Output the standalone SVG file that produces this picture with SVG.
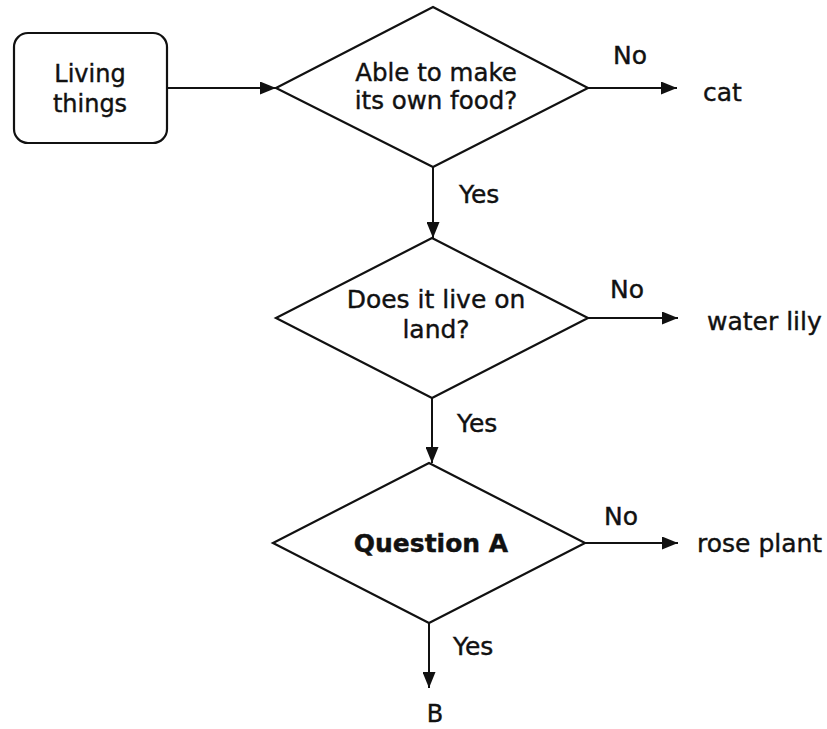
<svg xmlns="http://www.w3.org/2000/svg" width="827" height="729" viewBox="0 0 827 729">
<defs>
<marker id="arr" markerUnits="userSpaceOnUse" markerWidth="17" markerHeight="13" refX="16" refY="6.5" orient="auto">
<path d="M0,0 L16,6.5 L0,13 Z" fill="#111"/>
</marker>
<style>
.shape{fill:#fff;stroke:#111;stroke-width:2.2}
.edge{fill:none;stroke:#111;stroke-width:2;marker-end:url(#arr)}
text{font-family:"DejaVu Sans","Liberation Sans",sans-serif;font-size:25px;fill:#111;stroke:#111;stroke-width:0.4}
.c{text-anchor:middle}
.b{font-weight:bold}
</style>
</defs>
<rect width="827" height="729" fill="#fff"/>
<g id="connectors">
<line class="edge" x1="168" y1="88" x2="276" y2="88"/>
<line class="edge" x1="588" y1="88" x2="677" y2="88"/>
<line class="edge" x1="433" y1="167" x2="433" y2="238"/>
<line class="edge" x1="588" y1="318" x2="678" y2="318"/>
<line class="edge" x1="432" y1="398" x2="432" y2="463"/>
<line class="edge" x1="585" y1="543" x2="678" y2="543"/>
<line class="edge" x1="429" y1="623" x2="429" y2="688"/>
<text x="630" y="64" class="c">No</text>
<text x="459" y="203">Yes</text>
<text x="627" y="298" class="c">No</text>
<text x="457" y="432">Yes</text>
<text x="621" y="525" class="c">No</text>
<text x="453" y="655">Yes</text>
</g>
<g id="living">
<rect class="shape" x="14" y="33" width="153" height="110" rx="14"/>
<text x="90" y="82" class="c" style="font-size:24px">Living</text>
<text x="90" y="112" class="c" style="font-size:24px">things</text>
</g>
<g id="q1">
<polygon class="shape" points="433,7 588,88 433,167 276,88"/>
<text x="436" y="81" class="c" style="font-size:24.5px">Able to make</text>
<text x="436" y="109" class="c" style="font-size:24.5px">its own food?</text>
</g>
<g id="q2">
<polygon class="shape" points="432,238 588,318 432,398 276,318"/>
<text x="436" y="308" class="c">Does it live on</text>
<text x="436" y="338" class="c">land?</text>
</g>
<g id="q3">
<polygon class="shape" points="429,463 585,543 429,623 273,543"/>
<text x="431" y="552" class="c b">Question A</text>
</g>
<g id="cat"><text x="703" y="101">cat</text></g>
<g id="waterlily"><text x="707" y="330">water lily</text></g>
<g id="rose"><text x="697" y="552">rose plant</text></g>
<g id="B"><text x="435" y="722" class="c" style="font-size:24px">B</text></g>
</svg>
